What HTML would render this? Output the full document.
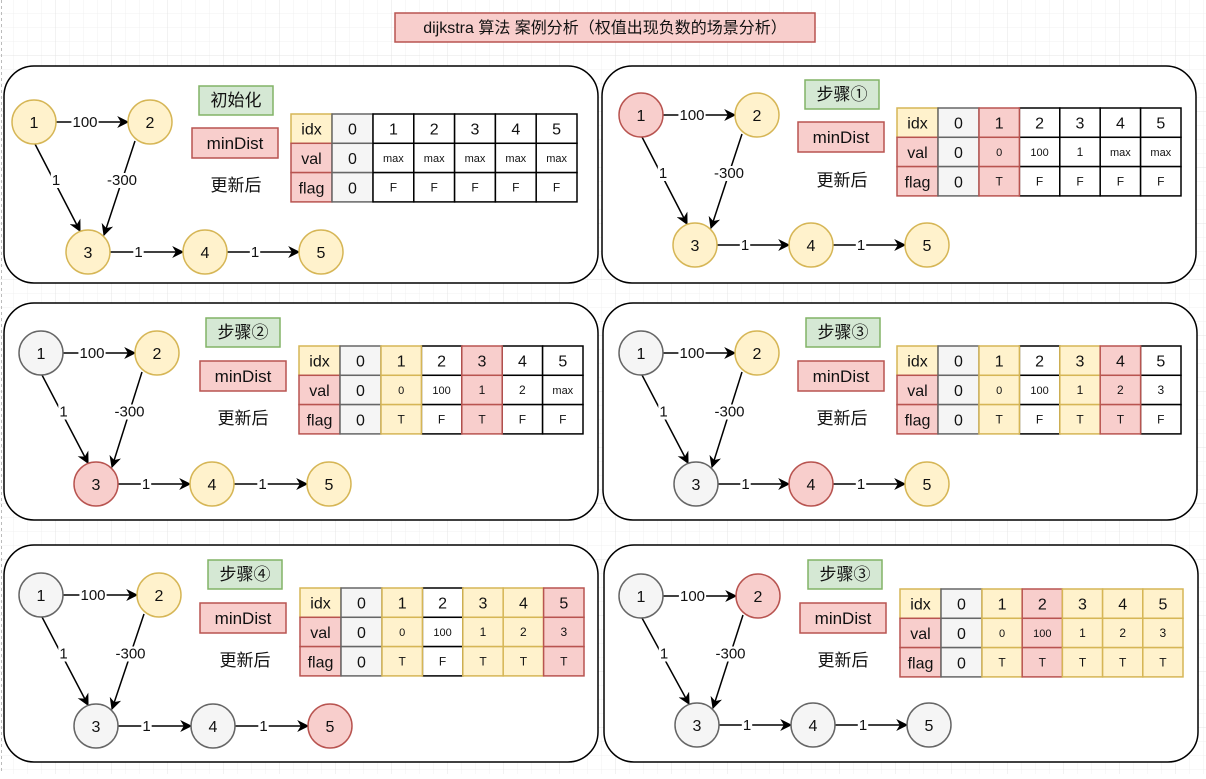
<!DOCTYPE html>
<html><head><meta charset="utf-8">
<style>
html,body{margin:0;padding:0;background:#fff;}
body{width:1206px;height:774px;overflow:hidden;}
svg text{font-family:"Liberation Sans","Noto Sans CJK SC",sans-serif;}
</style></head>
<body>
<svg id="s" width="1206" height="774" xmlns="http://www.w3.org/2000/svg">
<defs>
<pattern id="g1" width="14" height="14" patternUnits="userSpaceOnUse"><path d="M14 0V14H0" fill="none" stroke="#f1f1f1" stroke-width="1"/></pattern>
<pattern id="g2" width="56" height="56" patternUnits="userSpaceOnUse"><rect width="56" height="56" fill="url(#g1)"/><path d="M56 0V56H0" fill="none" stroke="#e4e4e4" stroke-width="1"/></pattern>
<marker id="ar" viewBox="0 0 10 10" refX="9" refY="5" markerWidth="8" markerHeight="8" orient="auto"><path d="M0,0 L10,5 L0,10 L3,5z" fill="#000"/></marker>
</defs>
<rect width="1206" height="774" fill="url(#g2)"/>
<line x1="1.5" y1="0" x2="1.5" y2="774" stroke="#bbb" stroke-dasharray="3,3"/>
<rect x="395" y="13" width="420" height="29" fill="#f8cecc" stroke="#b85450" stroke-width="1.5"/>
<text x="605" y="33" font-size="16" text-anchor="middle" fill="#111">dijkstra 算法 案例分析（权值出现负数的场景分析）</text>
<g id="c"></g>
</svg>
<script>
var C={y:['#fff2cc','#d6b656'],r:['#f8cecc','#b85450'],g:['#f5f5f5','#666666'],w:['#ffffff','#000000'],gr:['#d5e8d4','#82b366']};
var P=[
{b:[4,66],n:[[34,122,'y'],[150,122,'y'],[88,252,'y'],[205,252,'y'],[321,252,'y']],L:[199,86,'初始化'],M:[192,128],U:[236,185],T:[291,114,286],
 cols:['w','w','w','w','w'],v:['max','max','max','max','max'],f:['F','F','F','F','F']},
{b:[602,66],n:[[641,115,'r'],[757,115,'y'],[695,245,'y'],[811,245,'y'],[927,245,'y']],L:[805,80,'步骤①'],M:[798,122],U:[842,180],T:[897,108,284],
 cols:['r','w','w','w','w'],v:['0','100','1','max','max'],f:['T','F','F','F','F']},
{b:[4,303],n:[[41,353,'g'],[157,353,'y'],[96,484,'r'],[212,484,'y'],[329,484,'y']],L:[206,318,'步骤②'],M:[200,361],U:[243,418],T:[299,346,284],
 cols:['y','w','r','w','w'],v:['0','100','1','2','max'],f:['T','F','T','F','F']},
{b:[603,303],n:[[641,353,'g'],[757,353,'y'],[696,484,'g'],[811,484,'r'],[927,484,'y']],L:[806,318,'步骤③'],M:[798,361],U:[842,418],T:[897,346,284],
 cols:['y','w','y','r','w'],v:['0','100','1','2','3'],f:['T','F','T','T','F']},
{b:[4,545],n:[[41,595,'g'],[159,595,'y'],[96,726,'g'],[213,726,'g'],[330,726,'r']],L:[208,560,'步骤④'],M:[200,603],U:[245,660],T:[300,588,284],
 cols:['y','w','y','y','r'],v:['0','100','1','2','3'],f:['T','F','T','T','T']},
{b:[604,545],n:[[641,596,'g'],[758,596,'r'],[697,725,'g'],[813,725,'g'],[929,725,'g']],L:[808,560,'步骤③'],M:[800,603],U:[843,660],T:[900,589,283],
 cols:['y','r','y','y','y'],v:['0','100','1','2','3'],f:['T','T','T','T','T']}
];
var h='';
function rect(x,y,w,hh,c,sw){return '<rect x="'+x+'" y="'+y+'" width="'+w+'" height="'+hh+'" fill="'+C[c][0]+'" stroke="'+C[c][1]+'" stroke-width="'+(sw||1.5)+'"/>';}
function txt(x,y,t,fs,bg){var s='';if(bg){var w=t.length*fs*0.56+2;s+='<rect x="'+(x-w/2)+'" y="'+(y-fs*0.8)+'" width="'+w+'" height="'+fs+'" fill="#fff"/>';}
 return s+'<text x="'+x+'" y="'+y+'" font-size="'+fs+'" text-anchor="middle" fill="#111">'+t+'</text>';}
function line(x1,y1,x2,y2){return '<line x1="'+x1+'" y1="'+y1+'" x2="'+x2+'" y2="'+y2+'" stroke="#000" stroke-width="1.5" marker-end="url(#ar)"/>';}
P.forEach(function(p){
 h+='<rect x="'+p.b[0]+'" y="'+p.b[1]+'" width="594" height="217" rx="30" fill="#fff" stroke="#000" stroke-width="1.5"/>';
 var n=p.n,R=22;
 h+=line(n[0][0]+R,n[0][1],n[1][0]-R,n[1][1]);
 h+=txt((n[0][0]+n[1][0])/2-7,n[0][1]+5,'100',15,1);
 h+=line(n[0][0]+1,n[0][1]+R,n[2][0]-8,n[2][1]-21);
 h+=txt((n[0][0]+n[2][0]-8)/2-1,(n[0][1]+n[2][1])/2-2,'1',15,1);
 h+=line(n[1][0]-15,n[1][1]+19,n[2][0]+16,n[2][1]-17);
 h+=txt((n[1][0]+n[2][0])/2+3,(n[1][1]+n[2][1])/2-2,'-300',15,1);
 h+=line(n[2][0]+R,n[2][1],n[3][0]-R,n[3][1]);
 h+=txt((n[2][0]+n[3][0])/2-8,n[2][1]+5,'1',15,1);
 h+=line(n[3][0]+R,n[3][1],n[4][0]-R,n[4][1]);
 h+=txt((n[3][0]+n[4][0])/2-8,n[3][1]+5,'1',15,1);
 n.forEach(function(q,i){h+='<ellipse cx="'+q[0]+'" cy="'+q[1]+'" rx="22" ry="22" fill="'+C[q[2]][0]+'" stroke="'+C[q[2]][1]+'" stroke-width="1.5"/>'+txt(q[0],q[1]+6,String(i+1),16);});
 h+=rect(p.L[0],p.L[1],74,29,'gr')+txt(p.L[0]+37,p.L[1]+20,p.L[2],17);
 h+=rect(p.M[0],p.M[1],86,30,'r')+txt(p.M[0]+43,p.M[1]+21,'minDist',17);
 h+=txt(p.U[0],p.U[1]+6,'更新后',17);
 var tx=p.T[0],ty=p.T[1],W=p.T[2],rh=29.3,c0=41,cw=(W-2*c0)/5;
 var labs=['idx','val','flag'],lc=['y','r','r'];
 var later='';
 for(var r=0;r<3;r++){
  var y=ty+r*rh;
  h+=rect(tx,y,c0,rh,lc[r])+txt(tx+c0/2,y+rh/2+6,labs[r],16);
  h+=rect(tx+c0,y,c0,rh,'g')+txt(tx+c0*1.5,y+rh/2+6,'0',16);
  for(var k=0;k<5;k++){
   var x=tx+2*c0+k*cw,c=p.cols[k],t,fs;
   if(r==0){t=String(k+1);fs=16;}else if(r==1){t=p.v[k];fs=(t=='max'||t=='100'||t=='0')?11:12;}else{t=p.f[k];fs=12;}
   var cell=rect(x,y,cw,rh,c)+txt(x+cw/2,y+rh/2+(fs>13?6:4),t,fs);
   if(c=='w')h+=cell;else later+=cell;
  }
 }
 h+=later;
});
document.getElementById('c').innerHTML=h;
</script>
</body></html>
